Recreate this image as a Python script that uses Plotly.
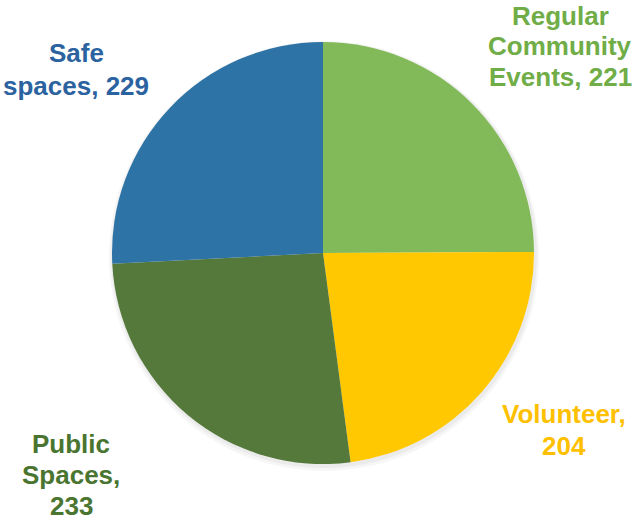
import plotly.graph_objects as go

categories = ["Regular Community Events", "Volunteer", "Public Spaces", "Safe spaces"]
values = [221, 204, 233, 229]
slice_colors = ["#82BA5A", "#FFC800", "#55793A", "#2E73A5"]
label_colors = ["#70AD47", "#FFC000", "#4A7530", "#2B62A0"]

W, H = 637, 521
# label lines ("{v}" is replaced by the value) and per-line pixel centres (layout only)
label_lines = [
    ["Regular", "Community", "Events, {v}"],
    ["Volunteer,", "{v}"],
    ["Public", "Spaces,", "{v}"],
    ["Safe", "spaces, {v}"],
]
label_x = [560, 564, 71, 76]
label_y = [[16, 46, 77], [414, 446], [444, 475, 505.5], [53, 86]]

cx, cy, r = 323, 253, 211

fig = go.Figure(go.Pie(
    labels=categories,
    values=values,
    sort=False,
    direction="clockwise",
    rotation=0,
    marker=dict(colors=slice_colors, line=dict(width=0)),
    textinfo="none",
    hoverinfo="label+value",
    domain=dict(x=[(cx - r) / W, (cx + r) / W], y=[1 - (cy + r) / H, 1 - (cy - r) / H]),
    showlegend=False,
))

# soft shadow
for grow, dy, col in [(4, 3, "#f6f6f6"), (2, 2, "#ebebeb")]:
    fig.add_shape(
        type="circle", xref="paper", yref="paper", layer="below",
        x0=(cx - r - grow + 1) / W, x1=(cx + r + grow + 1) / W,
        y0=1 - (cy + r + grow + dy) / H, y1=1 - (cy - r - grow + dy) / H,
        fillcolor=col, line=dict(width=0),
    )

for lines, v, c, px, pys in zip(label_lines, values, label_colors, label_x, label_y):
    for line, py in zip(lines, pys):
        fig.add_annotation(
            x=px / W, y=1 - py / H, xref="paper", yref="paper",
            text="<b>" + line.format(v=v) + "</b>", showarrow=False,
            xanchor="center", yanchor="middle", align="center",
            font=dict(family="Liberation Sans, Arial, sans-serif", size=26, color=c),
        )

fig.update_layout(
    width=W, height=H,
    margin=dict(l=0, r=0, t=0, b=0),
    paper_bgcolor="white", plot_bgcolor="white",
)
fig.write_html("out.html")
